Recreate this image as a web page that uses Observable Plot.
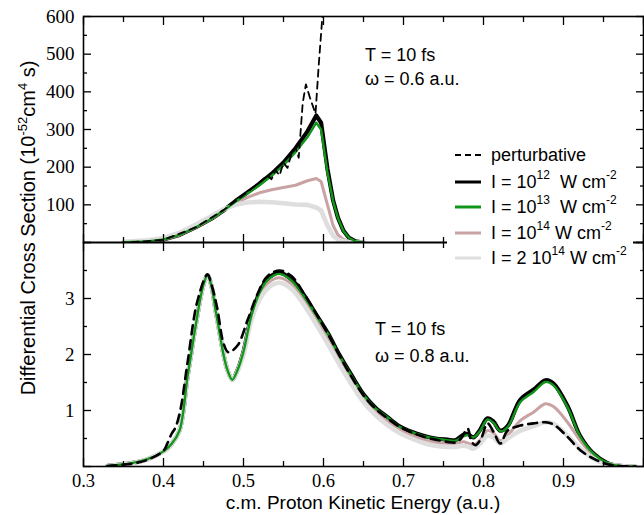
<!DOCTYPE html>
<html>
<head>
<meta charset="utf-8">
<script src="https://cdn.jsdelivr.net/npm/d3@7"></script>
<script src="https://cdn.jsdelivr.net/npm/@observablehq/plot@0.6"></script>
<style>
  html, body { margin: 0; padding: 0; background: #fff; }
  #chart { position: relative; width: 644px; height: 515px; overflow: hidden; font-family: "Liberation Sans", Arial, sans-serif; color: #000; }
  #chart svg { overflow: visible; background: transparent !important; }
  .pane { position: absolute; left: 0; }
  .ann { position: absolute; font-size: 18px; line-height: 20px; white-space: nowrap; }
  .ann sup { font-size: 12px; position: relative; top: -2px; vertical-align: super; line-height: 0; }
  #ylab { position: absolute; left: 28px; top: 228px; transform: translate(-50%, -50%) rotate(-90deg); font-size: 20px; line-height: 22px; white-space: nowrap; }
  #ylab sup { font-size: 13px; vertical-align: super; line-height: 0; }
  #xlab { position: absolute; left: 363px; top: 493px; transform: translateX(-50%); font-size: 19px; line-height: 20px; white-space: nowrap; }
  #legbox { position: absolute; left: 447px; top: 141px; width: 186px; height: 130px; background: #fff; }
  .leg { position: absolute; left: 455px; height: 22px; display: flex; align-items: center; font-size: 18px; white-space: nowrap; }
  .leg svg { width: 28px; height: 6px; margin-right: 8px; }
</style>
</head>
<body>
<div id="chart">
  <div class="pane" id="top" style="top:0"></div>
  <div class="pane" id="bot" style="top:242px"></div>
  <div id="ylab">Differential Cross Section (10<sup>-52</sup>cm<sup>4</sup> s)</div>
  <div id="xlab">c.m. Proton Kinetic Energy (a.u.)</div>
  <div class="ann" style="left:365px;top:45px">T = 10 fs</div>
  <div class="ann" style="left:365px;top:69px">ω = 0.6 a.u.</div>
  <div class="ann" style="left:375px;top:319px">T = 10 fs</div>
  <div class="ann" style="left:375px;top:346px">ω = 0.8 a.u.</div>
  <div id="legbox"></div>
  <div id="legend"></div>
</div>
<script>
// ---------- data ----------
const xMajor = [0.3, 0.4, 0.5, 0.6, 0.7, 0.8, 0.9, 1.0];
const xMinor = [0.35, 0.45, 0.55, 0.65, 0.75, 0.85, 0.95];
const xLabels = [0.3, 0.4, 0.5, 0.6, 0.7, 0.8, 0.9];

const yTopMajor = [0, 100, 200, 300, 400, 500, 600];
const yTopMinor = [50, 150, 250, 350, 450, 550];
const yTopLabels = [100, 200, 300, 400, 500, 600];
const yBotMajor = [0, 1, 2, 3, 4];
const yBotMinor = [0.5, 1.5, 2.5, 3.5];
const yBotLabels = [1, 2, 3];

// top panel (omega = 0.6 a.u.)
const topE      = [0.35, 0.38, 0.40, 0.42, 0.44, 0.46, 0.475, 0.49, 0.505, 0.52, 0.535, 0.55, 0.565, 0.58, 0.591, 0.597, 0.605, 0.612, 0.618, 0.625, 0.632, 0.64, 0.65];
const topI12    = [0.5, 3, 8, 20, 40, 63, 85, 110, 133, 156, 182, 212, 250, 295, 337, 318, 195, 112, 66, 31, 12, 3, 0];
const topI13    = [0.5, 3, 8, 20, 40, 63, 85, 108, 130, 152, 177, 205, 240, 280, 318, 300, 185, 110, 65, 30, 12, 3, 0];
const topI14    = [1, 3, 8, 20, 40, 63, 85, 104, 120, 132, 140, 146, 152, 164, 170, 162, 100, 45, 20, 8, 3, 1, 0];
const topI2e14  = [2, 6, 12, 26, 47, 70, 88, 100, 106, 108, 107, 104, 101, 100, 93, 85, 45, 18, 8, 3, 1, 0, 0];
const topPertE  = [0.36, 0.40, 0.44, 0.475, 0.505, 0.52, 0.53, 0.535, 0.54, 0.545, 0.55, 0.555, 0.56, 0.565, 0.569, 0.574, 0.578, 0.583, 0.59, 0.594, 0.6];
const topPert   = [1, 7, 40, 86, 134, 160, 178, 168, 192, 178, 212, 198, 236, 252, 225, 370, 420, 385, 342, 470, 640];

// bottom panel (omega = 0.8 a.u.)
const botE     = [0.33, 0.36, 0.38, 0.40, 0.41, 0.42, 0.43, 0.435, 0.44, 0.45, 0.455, 0.46, 0.465, 0.47, 0.475, 0.48, 0.486, 0.4925, 0.5, 0.51, 0.52, 0.53, 0.545, 0.56, 0.575, 0.59, 0.605, 0.62, 0.635, 0.65, 0.665, 0.68, 0.695, 0.71, 0.725, 0.74, 0.755, 0.765, 0.775, 0.78, 0.7875, 0.795, 0.805, 0.8125, 0.821, 0.83, 0.846, 0.8625, 0.8775, 0.8875, 0.905, 0.921, 0.9375, 0.955, 0.971, 0.99];
const botI12   = [0.01, 0.06, 0.13, 0.27, 0.4, 0.64, 1.6, 2.05, 2.5, 3.25, 3.41, 3.22, 2.8, 2.4, 2.0, 1.72, 1.55, 1.72, 2.05, 2.7, 3.1, 3.35, 3.46, 3.34, 3.07, 2.73, 2.39, 1.99, 1.63, 1.29, 1.05, 0.88, 0.72, 0.62, 0.55, 0.5, 0.48, 0.47, 0.57, 0.58, 0.52, 0.64, 0.86, 0.8, 0.64, 0.72, 1.19, 1.37, 1.54, 1.48, 1.08, 0.54, 0.23, 0.06, 0.01, 0];
const botI13   = [0.01, 0.06, 0.13, 0.27, 0.4, 0.64, 1.6, 2.05, 2.5, 3.25, 3.41, 3.22, 2.8, 2.4, 2.0, 1.72, 1.55, 1.72, 2.05, 2.7, 3.1, 3.33, 3.44, 3.32, 3.05, 2.72, 2.38, 1.98, 1.62, 1.28, 1.04, 0.88, 0.71, 0.62, 0.54, 0.5, 0.47, 0.46, 0.54, 0.56, 0.52, 0.62, 0.84, 0.78, 0.63, 0.7, 1.15, 1.33, 1.51, 1.45, 1.06, 0.53, 0.23, 0.06, 0.01, 0];
const botI14   = [0.01, 0.06, 0.13, 0.27, 0.4, 0.64, 1.6, 2.05, 2.5, 3.25, 3.41, 3.22, 2.8, 2.4, 2.0, 1.72, 1.55, 1.72, 2.05, 2.68, 3.06, 3.27, 3.37, 3.26, 3.0, 2.66, 2.3, 1.9, 1.55, 1.22, 0.98, 0.81, 0.66, 0.56, 0.48, 0.43, 0.41, 0.41, 0.44, 0.42, 0.38, 0.46, 0.64, 0.6, 0.46, 0.55, 0.82, 0.97, 1.12, 1.07, 0.79, 0.46, 0.2, 0.05, 0.01, 0];
const botI2e14 = [0.01, 0.06, 0.13, 0.27, 0.4, 0.64, 1.6, 2.05, 2.5, 3.25, 3.41, 3.22, 2.8, 2.4, 2.0, 1.72, 1.55, 1.7, 2.0, 2.62, 2.98, 3.18, 3.28, 3.17, 2.9, 2.56, 2.2, 1.82, 1.47, 1.15, 0.92, 0.74, 0.6, 0.5, 0.42, 0.37, 0.35, 0.35, 0.37, 0.36, 0.32, 0.4, 0.55, 0.52, 0.41, 0.5, 0.64, 0.72, 0.79, 0.76, 0.55, 0.32, 0.14, 0.04, 0.01, 0];
const botPertE = [0.33, 0.36, 0.38, 0.40, 0.405, 0.41, 0.415, 0.421, 0.43, 0.4425, 0.455, 0.46, 0.467, 0.475, 0.481, 0.4925, 0.505, 0.5175, 0.53, 0.545, 0.56, 0.575, 0.59, 0.605, 0.62, 0.635, 0.65, 0.665, 0.68, 0.695, 0.71, 0.725, 0.74, 0.755, 0.765, 0.772, 0.78, 0.785, 0.79, 0.797, 0.805, 0.8125, 0.821, 0.83, 0.846, 0.8625, 0.8775, 0.8875, 0.905, 0.921, 0.9375, 0.955, 0.971, 0.99];
const botPert  = [0.01, 0.05, 0.12, 0.28, 0.42, 0.58, 0.7, 1.0, 1.85, 2.96, 3.43, 3.25, 2.84, 2.2, 2.04, 2.16, 2.61, 3.08, 3.4, 3.5, 3.4, 3.1, 2.75, 2.38, 1.98, 1.6, 1.27, 1.03, 0.86, 0.71, 0.61, 0.53, 0.48, 0.44, 0.43, 0.5, 0.68, 0.45, 0.38, 0.5, 0.77, 0.62, 0.41, 0.64, 0.73, 0.77, 0.79, 0.75, 0.53, 0.29, 0.14, 0.04, 0.01, 0];

const legendLabels = ["perturbative", "I = 10<sup>12</sup>&nbsp; W cm<sup>-2</sup>", "I = 10<sup>13</sup>&nbsp; W cm<sup>-2</sup>", "I = 10<sup>14</sup> W cm<sup>-2</sup>", "I = 2 10<sup>14</sup> W cm<sup>-2</sup>"];

// ---------- styles ----------
const GREEN = "#12961a", PINK = "#c9a3a3", GRAY = "#dedede";
const SERIF = "Liberation Serif, Times New Roman, serif";
const rows = (E, V) => E.map((e, i) => ({e, v: V[i]}));

function ticks(ys, bottomLabels, yLabels) {
  const m = [];
  for (const anchor of ["top", "bottom"]) {
    m.push(Plot.axisX({anchor, ticks: xMajor, tickSize: -8, tickFormat: () => "", label: null, strokeWidth: 1.3}));
    m.push(Plot.axisX({anchor, ticks: xMinor, tickSize: -5, tickFormat: () => "", label: null, strokeWidth: 1.3}));
  }
  for (const anchor of ["left", "right"]) {
    m.push(Plot.axisY({anchor, ticks: ys[0], tickSize: -8, tickFormat: () => "", label: null, strokeWidth: 1.3}));
    m.push(Plot.axisY({anchor, ticks: ys[1], tickSize: -4, tickFormat: () => "", label: null, strokeWidth: 1.3}));
  }
  m.push(Plot.axisY({anchor: "left", ticks: yLabels, tickSize: 0, tickPadding: 9, label: null, fontSize: 19, fontFamily: SERIF, tickFormat: d => String(d)}));
  if (bottomLabels) {
    m.push(Plot.axisX({anchor: "bottom", ticks: bottomLabels, tickSize: 0, tickPadding: 7, label: null, fontSize: 18.5, fontFamily: SERIF, tickFormat: d3.format(".1f")}));
  }
  return m;
}

const common = {width: 644, marginLeft: 83, marginRight: 1, x: {domain: [0.3, 1.0]}, style: {background: "transparent", overflow: "visible"}};

function curves(E, s12, s13, s14, s2e14, PE, P, curve, dashW, dash) {
  return [
    Plot.line(rows(E, s12), {x: "e", y: "v", stroke: "#000", strokeWidth: 4.2, curve, clip: true}),
    Plot.line(rows(E, s14), {x: "e", y: "v", stroke: PINK, strokeWidth: 3, curve, clip: true}),
    Plot.line(rows(E, s2e14), {x: "e", y: "v", stroke: GRAY, strokeWidth: 4.6, curve, clip: true}),
    Plot.line(rows(E, s13), {x: "e", y: "v", stroke: GREEN, strokeWidth: 2.4, curve, clip: true}),
    Plot.line(rows(PE, P), {x: "e", y: "v", stroke: "#000", strokeWidth: dashW, strokeDasharray: dash, curve, clip: true})
  ];
}

const topPlot = Plot.plot({
  ...common,
  height: 242, marginTop: 16, marginBottom: 0,
  y: {domain: [0, 600]},
  marks: [
    ...curves(topE, topI12, topI13, topI14, topI2e14, topPertE, topPert, "linear", 1.8, "7,5"),
    Plot.frame({stroke: "#000", strokeWidth: 1.6}),
    ...ticks([yTopMajor, yTopMinor], null, yTopLabels)
  ]
});

const botPlot = Plot.plot({
  ...common,
  height: 273, marginTop: 0, marginBottom: 49,
  y: {domain: [0, 4]},
  marks: [
    ...curves(botE, botI12, botI13, botI14, botI2e14, botPertE, botPert, "catmull-rom", 2.6, "9,6"),
    Plot.frame({stroke: "#000", strokeWidth: 1.6}),
    ...ticks([yBotMajor, yBotMinor], xLabels, yBotLabels)
  ]
});

document.getElementById("top").appendChild(topPlot);
document.getElementById("bot").appendChild(botPlot);

// legend
const legendStyles = [
  {stroke: "#000", w: 2, dash: "6,4"},
  {stroke: "#000", w: 3, dash: null},
  {stroke: GREEN, w: 3, dash: null},
  {stroke: PINK, w: 3, dash: null},
  {stroke: GRAY, w: 3, dash: null}
];
const legendY = [155, 182, 207, 233, 258];
const leg = document.getElementById("legend");
legendLabels.forEach((lab, i) => {
  const s = legendStyles[i];
  const div = document.createElement("div");
  div.className = "leg ann";
  div.style.top = (legendY[i] - 11) + "px";
  div.innerHTML = `<svg viewBox="0 0 28 6"><line x1="0" x2="26" y1="3" y2="3" stroke="${s.stroke}" stroke-width="${s.w}" ${s.dash ? `stroke-dasharray="${s.dash}"` : ""}/></svg><span>${lab}</span>`;
  leg.appendChild(div);
});
</script>
</body>
</html>
